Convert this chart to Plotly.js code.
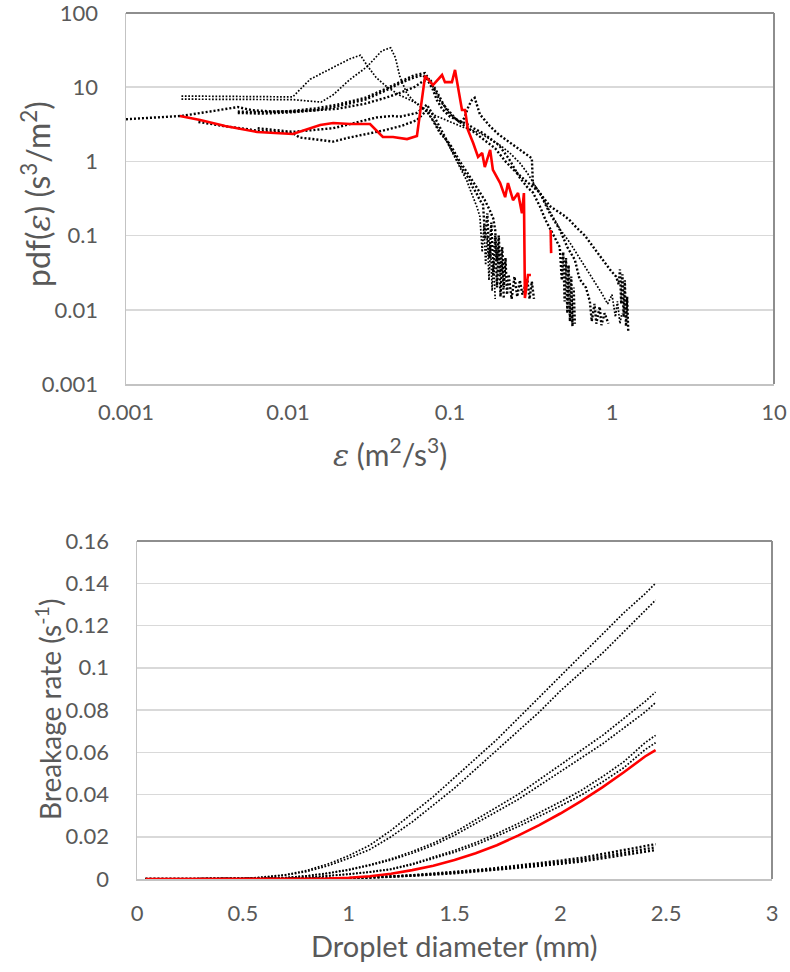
<!DOCTYPE html>
<html>
<head>
<meta charset="utf-8">
<script src="https://cdn.plot.ly/plotly-3.0.1.min.js"></script>
<style>html,body{margin:0;padding:0;background:#fff;}#chart{width:790px;height:972px;}</style>
</head>
<body>
<div id="chart"></div>
<script>
// ---------- Top chart: pdf of dissipation rate (log-log) ----------
const epsTickVals = [0.001, 0.01, 0.1, 1, 10];
const epsTickText = ["0.001", "0.01", "0.1", "1", "10"];
const pdfTickVals = [0.001, 0.01, 0.1, 1, 10, 100];
const pdfTickText = ["0.001", "0.01", "0.1", "1", "10", "100"];

const e1_x = [0.0022,0.0035,0.005,0.0075,0.0107,0.0137,0.019,0.024,0.028,0.0306,0.035,0.041,0.049,0.0625,0.078,0.1,0.12,0.133,0.153,0.176,0.2,0.234,0.27,0.3,0.33,0.37,0.42,0.48,0.55,0.63,0.7,0.78,0.86,0.94,1.0,1.05,1.08,1.12,1.15];
const e1_y = [7.6,7.5,7.5,7.4,7.4,12.8,18.7,24,27,20,13.5,10,7.8,6.1,4.3,3.4,2.9,2.7,2.4,2.0,1.7,1.3,0.95,0.7,0.5,0.33,0.2,0.12,0.08,0.05,0.035,0.024,0.017,0.012,0.016,0.008,0.013,0.0065,0.009];

const e2_x = [0.0022,0.0035,0.005,0.0075,0.0107,0.0135,0.016,0.019,0.024,0.0306,0.038,0.043,0.046,0.049,0.054,0.06,0.066,0.072,0.08,0.087,0.095,0.1,0.107,0.113,0.12,0.127,0.133,0.14,0.147,0.153,0.158,0.162,0.166,0.17,0.174,0.178,0.182,0.186,0.19];
const e2_y = [6.9,6.9,6.8,6.8,6.8,6.5,6.3,7.9,12.6,18.7,31,34,25,14,8.3,6.4,5.3,4.6,3.4,2.5,1.9,1.5,1.15,0.9,0.7,0.55,0.42,0.32,0.24,0.18,0.06,0.14,0.04,0.1,0.025,0.075,0.018,0.05,0.014];

const e3a_x = [0.0049,0.007,0.0107,0.015,0.02,0.03,0.04,0.05,0.06,0.07,0.0755,0.0808,0.087,0.1,0.11,0.117,0.123,0.13,0.137,0.142,0.148,0.153,0.164,0.176,0.2,0.234,0.27,0.3,0.32,0.325,0.358,0.413,0.45,0.5,0.55,0.6,0.68,0.78,0.87,0.97,1.06,1.1,1.12,1.14,1.16,1.18,1.2,1.22,1.24,1.26];
const e3a_y = [4.7,4.6,4.8,5.2,5.8,7.2,9.5,12,14.5,15.5,12,9,6.5,4.6,3.6,3.3,3.9,5.5,6.8,7.2,5.5,4.3,3.6,3.0,2.3,1.8,1.4,1.2,1.1,0.5,0.38,0.25,0.22,0.19,0.16,0.13,0.1,0.066,0.047,0.035,0.028,0.022,0.035,0.012,0.03,0.008,0.025,0.006,0.015,0.005];

const e3b_x = [0.0049,0.007,0.0107,0.015,0.02,0.03,0.04,0.05,0.06,0.068,0.072,0.078,0.083,0.09,0.1,0.115,0.127,0.14,0.16,0.2,0.23,0.27,0.3,0.325,0.358,0.39,0.427,0.476,0.49,0.5,0.51,0.52,0.53,0.54,0.55,0.56,0.57,0.58,0.59];
const e3b_y = [4.5,4.4,4.6,4.9,5.5,6.8,9.0,11.5,13.5,14.5,13,9.5,6.7,5.0,4.0,3.5,3.2,2.8,2.4,1.66,1.1,0.6,0.45,0.38,0.25,0.16,0.11,0.07,0.025,0.06,0.013,0.05,0.009,0.04,0.007,0.028,0.006,0.02,0.0065];

const e4_x = [0.001,0.0015,0.0022,0.0035,0.0049,0.006,0.008,0.011,0.015,0.02,0.03,0.04,0.05,0.06,0.068,0.075,0.08,0.087,0.095,0.1,0.11,0.123,0.14,0.16,0.19,0.22,0.25,0.29,0.358,0.413,0.476,0.53,0.59,0.63,0.69,0.73,0.75,0.78,0.8,0.84,0.86,0.9,0.95];
const e4_y = [3.7,3.9,4.1,4.8,5.4,4.9,4.7,4.7,4.9,5.1,6.0,7.2,8.5,10,12,13,10,7,5,4.3,3.6,3.0,2.5,2.0,1.5,1.0,0.75,0.56,0.38,0.2,0.12,0.07,0.047,0.026,0.02,0.013,0.007,0.012,0.0065,0.011,0.0062,0.009,0.0065];

const e5_x = [0.0028,0.004,0.0065,0.0107,0.0118,0.0158,0.019,0.024,0.0385,0.05,0.0625,0.072,0.08,0.087,0.1,0.107,0.115,0.123,0.133,0.143,0.153,0.164,0.176,0.185,0.19,0.195,0.2,0.205,0.21,0.215,0.22,0.225,0.23,0.24,0.25,0.26,0.27,0.28,0.3,0.31,0.32,0.33];
const e5_y = [3.4,3.0,2.6,2.4,2.1,1.95,1.85,2.1,2.6,3.0,3.6,4.9,3.3,2.4,1.7,1.3,1.0,0.8,0.6,0.48,0.38,0.3,0.22,0.17,0.12,0.045,0.1,0.03,0.07,0.02,0.05,0.016,0.03,0.014,0.028,0.015,0.025,0.016,0.026,0.014,0.024,0.014];

const e6_x = [0.0065,0.0107,0.019,0.0306,0.035,0.044,0.049,0.0625,0.072,0.08,0.087,0.095,0.1,0.107,0.115,0.123,0.13,0.138,0.145,0.153,0.16,0.165,0.17,0.175,0.18,0.185,0.19,0.195,0.2,0.205,0.21,0.215];
const e6_y = [2.8,2.5,2.8,3.6,3.9,4.1,4.0,4.5,5.8,4.0,2.8,2.0,1.6,1.2,0.9,0.7,0.6,0.45,0.38,0.3,0.26,0.09,0.2,0.05,0.15,0.03,0.1,0.02,0.07,0.015,0.045,0.014];

const red_x = [0.00215,0.00287,0.00409,0.00645,0.0107,0.0127,0.0158,0.019,0.0242,0.0321,0.0385,0.0445,0.0543,0.0625,0.0702,0.0785,0.0893,0.0931,0.1028,0.1074,0.1186,0.1239,0.129,0.139,0.149,0.158,0.164,0.177,0.184,0.204,0.219,0.228,0.245,0.263,0.278,0.286,0.29,0.303,0.316,null,0.418,0.421];
const red_y = [4.09,3.61,3.0,2.49,2.34,2.65,3.1,3.29,3.19,3.19,2.13,2.13,2.0,2.2,14.2,10.7,14.6,11.7,11.7,17.1,4.93,4.93,2.65,1.77,1.15,1.3,0.84,1.43,0.77,0.51,0.33,0.51,0.3,0.375,0.2,0.375,0.0144,0.0294,0.0294,null,0.119,0.058];

// ---------- Bottom chart: breakage rate ----------
const diam = [0.04,0.1,0.2,0.3,0.4,0.5,0.6,0.7,0.8,0.9,1.0,1.1,1.2,1.3,1.4,1.5,1.6,1.7,1.8,1.9,2.0,2.1,2.2,2.3,2.4,2.45];
const br_top1 = [0,0,0,0,0,0,0.001,0.002,0.004,0.007,0.011,0.016,0.023,0.031,0.039,0.048,0.057,0.066,0.076,0.086,0.096,0.106,0.116,0.126,0.135,0.14];
const br_top2 = [0,0,0,0,0,0,0.0008,0.0018,0.0035,0.0062,0.0098,0.014,0.02,0.027,0.035,0.043,0.052,0.061,0.07,0.079,0.089,0.098,0.107,0.117,0.127,0.132];
const br_mid1 = [0,0,0,0,0,0,0.0003,0.0007,0.0015,0.0028,0.0045,0.0068,0.0095,0.013,0.017,0.022,0.028,0.034,0.04,0.047,0.054,0.061,0.068,0.076,0.084,0.0885];
const br_mid2 = [0,0,0,0,0,0,0.0003,0.0006,0.0014,0.0026,0.0042,0.0064,0.009,0.0122,0.016,0.0207,0.0263,0.032,0.0376,0.0442,0.0508,0.0573,0.064,0.0715,0.079,0.0835];
const br_low1 = [0,0,0,0,0,0,0.0001,0.0003,0.0007,0.0014,0.0024,0.0034,0.0048,0.0072,0.0102,0.0135,0.0172,0.0215,0.0262,0.0312,0.0365,0.042,0.0485,0.0555,0.0645,0.068];
const br_low2 = [0,0,0,0,0,0,0.0001,0.0003,0.0006,0.0013,0.0022,0.0032,0.0045,0.0068,0.0096,0.0127,0.0162,0.0203,0.0248,0.0296,0.0346,0.0398,0.046,0.0527,0.0612,0.0645];
const br_bot1 = [0,0,0,0,0,0,0,0,0.0001,0.0002,0.0004,0.0007,0.0012,0.0018,0.0025,0.0033,0.0042,0.0052,0.0063,0.0075,0.0087,0.01,0.0118,0.0137,0.0156,0.0165];
const br_bot2 = [0,0,0,0,0,0,0,0,0.0001,0.0002,0.0004,0.0007,0.0011,0.0016,0.0023,0.003,0.0038,0.0047,0.0057,0.0068,0.0079,0.0091,0.0107,0.0124,0.0141,0.015];
const br_bot3 = [0,0,0,0,0,0,0,0,0.0001,0.0002,0.0003,0.0006,0.001,0.0015,0.0021,0.0027,0.0035,0.0043,0.0052,0.0062,0.0072,0.0083,0.0098,0.0114,0.013,0.0137];
const br_red = [0,0,0,0,0,0,0,0,0,0.0002,0.0006,0.0013,0.0025,0.0042,0.0063,0.009,0.0122,0.016,0.0205,0.0255,0.031,0.037,0.0435,0.0505,0.058,0.061];
const diamTicks = [0,0.5,1,1.5,2,2.5,3];
const diamTickText = ["0","0.5","1","1.5","2","2.5","3"];
const brTicks = [0,0.02,0.04,0.06,0.08,0.1,0.12,0.14,0.16];
const brTickText = ["0","0.02","0.04","0.06","0.08","0.1","0.12","0.14","0.16"];

const thin = {color:'#000', width:1.7, dash:'1.7px,1.7px'};
const thick = {color:'#000', width:2.4, dash:'2px,2px'};
const redLine = {color:'#ff0000', width:2.6};

function tr(x, y, line, xa, ya) {
  return {x:x, y:y, type:'scatter', mode:'lines', line:line, xaxis:xa, yaxis:ya, hoverinfo:'skip', connectgaps:false};
}

const data = [
  tr(e1_x, e1_y, thin, 'x', 'y'),
  tr(e2_x, e2_y, thin, 'x', 'y'),
  tr(e3a_x, e3a_y, thick, 'x', 'y'),
  tr(e3b_x, e3b_y, thick, 'x', 'y'),
  tr(e4_x, e4_y, thick, 'x', 'y'),
  tr(e5_x, e5_y, thick, 'x', 'y'),
  tr(e6_x, e6_y, thick, 'x', 'y'),
  tr(red_x, red_y, redLine, 'x', 'y'),
  tr(diam, br_top1, thin, 'x2', 'y2'),
  tr(diam, br_top2, thin, 'x2', 'y2'),
  tr(diam, br_mid1, thin, 'x2', 'y2'),
  tr(diam, br_mid2, thin, 'x2', 'y2'),
  tr(diam, br_low1, thin, 'x2', 'y2'),
  tr(diam, br_low2, thin, 'x2', 'y2'),
  tr(diam, br_bot1, thick, 'x2', 'y2'),
  tr(diam, br_bot2, thick, 'x2', 'y2'),
  tr(diam, br_bot3, thick, 'x2', 'y2'),
  tr(diam, br_red, redLine, 'x2', 'y2')
];

const W = 790, H = 972;
const FAM = 'Lato, Open Sans, sans-serif';
const tickFont = {family:FAM, size:22, color:'#595959'};
const titleFont = {family:FAM, size:28, color:'#595959'};
const lineC = '#c3c3c3', darkC = '#8e8e8e', gridC = '#d9d9d9';

const layout = {
  width: W, height: H,
  margin: {l:0, r:0, t:0, b:0},
  paper_bgcolor: '#fff', plot_bgcolor: '#fff',
  showlegend: false,
  font: {family:FAM, color:'#595959'},
  xaxis: {
    domain: [126/W, 774/W], anchor: 'y', type: 'log', range: [-3, 1],
    tickvals: epsTickVals, ticktext: epsTickText, tickfont: tickFont,
    showgrid: false, zeroline: false, showline: true, linecolor: lineC, linewidth: 1.5,
    ticks: '', ticklabelstandoff: 8, ticklabeloverflow: 'allow', automargin: false, fixedrange: true
  },
  yaxis: {
    domain: [1-384/H, 1-13/H], anchor: 'x', type: 'log', range: [-3, 2],
    tickvals: pdfTickVals, ticktext: pdfTickText, tickfont: tickFont,
    showgrid: true, gridcolor: gridC, gridwidth: 1.5, zeroline: false,
    showline: true, linecolor: lineC, linewidth: 1.5,
    ticks: '', ticklabelstandoff: 22, ticklabeloverflow: 'allow', automargin: false, fixedrange: true
  },
  xaxis2: {
    domain: [137/W, 772/W], anchor: 'y2', range: [0, 3],
    tickvals: diamTicks, ticktext: diamTickText, tickfont: tickFont,
    showgrid: false, zeroline: false, showline: true, linecolor: lineC, linewidth: 1.5,
    ticks: '', ticklabelstandoff: 14, ticklabeloverflow: 'allow', automargin: false, fixedrange: true
  },
  yaxis2: {
    domain: [1-879/H, 1-541/H], anchor: 'x2', range: [0, 0.16],
    tickvals: brTicks, ticktext: brTickText, tickfont: tickFont,
    showgrid: true, gridcolor: gridC, gridwidth: 1.5, zeroline: false,
    showline: true, linecolor: lineC, linewidth: 1.5,
    ticks: '', ticklabelstandoff: 22, ticklabeloverflow: 'allow', automargin: false, fixedrange: true
  },
  shapes: [
    {type:'line', xref:'x domain', yref:'y domain', x0:0, x1:1, y0:1, y1:1, line:{color:darkC, width:2}},
    {type:'line', xref:'x domain', yref:'y domain', x0:1, x1:1, y0:0, y1:1, line:{color:darkC, width:2}},
    {type:'line', xref:'x2 domain', yref:'y2 domain', x0:0, x1:1, y0:1, y1:1, line:{color:darkC, width:2}},
    {type:'line', xref:'x2 domain', yref:'y2 domain', x0:1, x1:1, y0:0, y1:1, line:{color:darkC, width:2}}
  ],
  annotations: [
    {text:'pdf(<span style="font-family:\'DejaVu Serif\'"><i>ε</i></span>) (s<sup>3</sup>/m<sup>2</sup>)',
     xref:'paper', yref:'paper', x:36/W, y:1-194/H, xanchor:'center', yanchor:'middle',
     textangle:-90, showarrow:false, font:{family:FAM, size:32, color:'#595959'}},
    {text:'<span style="font-family:\'DejaVu Serif\'"><i>ε</i></span> (m<sup>2</sup>/s<sup>3</sup>)',
     xref:'paper', yref:'paper', x:390/W, y:1-452/H, xanchor:'center', yanchor:'middle',
     showarrow:false, font:{family:FAM, size:30, color:'#595959'}},
    {text:'Droplet diameter (mm)',
     xref:'paper', yref:'paper', x:454/W, y:1-945/H, xanchor:'center', yanchor:'middle',
     showarrow:false, font:{family:FAM, size:29, color:'#595959'}},
    {text:'Breakage rate (s<sup>-1</sup>)',
     xref:'paper', yref:'paper', x:48/W, y:1-710/H, xanchor:'center', yanchor:'middle',
     textangle:-90, showarrow:false, font:titleFont}
  ]
};

Plotly.newPlot('chart', data, layout, {staticPlot:true, displayModeBar:false});
</script>
</body>
</html>
